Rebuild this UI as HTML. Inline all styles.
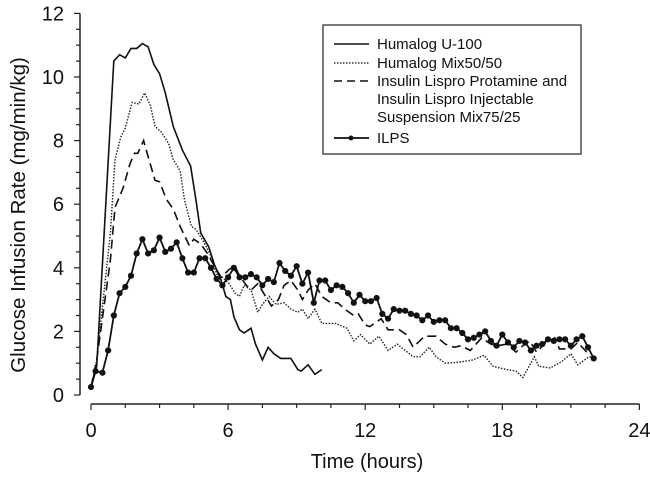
<!DOCTYPE html>
<html><head><meta charset="utf-8"><style>
body{margin:0;background:#fff}
svg{font-family:"Liberation Sans",Arial,sans-serif;display:block}
</style></head><body>
<svg id="chart" width="650" height="481" viewBox="0 0 650 481">
<g id="axes"></g><g id="series"></g>
<g>
<rect x="323" y="25" width="258" height="129" fill="#fff" stroke="#333" stroke-width="1.3"/>
<g font-size="15" fill="#111">
<line x1="334" y1="44" x2="369" y2="44" stroke="#111" stroke-width="1.5"/>
<text x="377" y="49">Humalog U-100</text>
<line x1="334" y1="63" x2="369" y2="63" stroke="#111" stroke-width="1.2" stroke-dasharray="1.5,1.5"/>
<text x="377" y="68">Humalog Mix50/50</text>
<line x1="334" y1="81" x2="369" y2="81" stroke="#111" stroke-width="1.5" stroke-dasharray="8,5"/>
<text x="377" y="86">Insulin Lispro Protamine and</text>
<text x="377" y="104">Insulin Lispro Injectable</text>
<text x="377" y="122">Suspension Mix75/25</text>
<line x1="334" y1="138" x2="369" y2="138" stroke="#111" stroke-width="1.8"/>
<circle cx="351" cy="138" r="2.5" fill="#111"/>
<text x="377" y="143">ILPS</text>
</g></g>
<text x="367" y="468" font-size="20" text-anchor="middle" fill="#111">Time (hours)</text>
<text transform="translate(25,215) rotate(-90)" font-size="20.5" text-anchor="middle" fill="#111">Glucose Infusion Rate (mg/min/kg)</text>
</svg>
<script>
const xTicks=[0,6,12,18,24];
const yTicks=[0,2,4,6,8,10,12];
const u100T=[0,0.25,1.0,1.25,1.5,1.75,2,2.25,2.5,2.75,3.0,3.25,3.6,4.0,4.36,4.6,4.8,5.15,5.4,5.7,5.9,6.1,6.26,6.5,6.7,7.0,7.2,7.5,7.75,8.0,8.3,8.75,9.05,9.2,9.5,9.8,10.1];
const u100V=[0.25,0.9,10.5,10.7,10.6,10.9,10.9,11.05,10.95,10.4,10.1,9.5,8.44,7.7,7.2,6.1,5.1,4.66,4.1,3.6,3.1,3.0,2.45,2.05,1.95,2.1,1.6,1.1,1.5,1.3,1.15,1.15,0.8,0.75,0.95,0.65,0.8];
const m50T=[0,0.25,0.85,1.05,1.3,1.5,1.8,2.1,2.35,2.6,2.8,3.1,3.4,3.6,3.9,4.1,4.4,4.6,4.9,5.2,5.5,5.75,6.05,6.3,6.5,6.7,7.0,7.3,7.5,7.8,8.1,8.45,8.75,9.05,9.25,9.5,9.8,10.1,10.7,11.2,11.5,11.8,12.2,12.6,13.0,13.4,14.1,14.4,14.8,15.1,15.5,16.1,16.7,17.2,17.6,18.2,18.6,18.9,19.4,19.6,20.1,20.6,21.0,21.3,21.8,22.0];
const m50V=[0.25,1.1,5.1,7.4,8.1,8.4,9.2,9.15,9.5,9.1,8.45,8.25,7.9,7.4,7.05,6.1,5.3,5.2,4.85,4.45,3.8,3.7,3.5,3.2,3.1,3.45,3.3,2.6,2.85,3.1,2.85,2.9,2.7,2.6,2.7,2.4,2.7,2.25,2.25,2.1,1.7,1.9,1.6,1.85,1.4,1.6,1.2,1.2,1.5,1.2,1.0,1.03,1.1,1.25,0.9,0.8,0.75,0.55,1.2,0.9,0.85,1.05,1.3,0.95,1.2,1.2];
const m75T=[0,0.25,0.85,1.05,1.4,1.7,1.9,2.05,2.3,2.5,2.8,3.0,3.3,3.6,3.9,4.3,4.5,4.8,5.1,5.4,5.7,6.05,6.3,6.5,6.8,7.0,7.3,7.9,8.2,8.45,8.75,9.05,9.25,9.5,9.8,10.1,10.5,10.8,11.1,11.5,11.7,12.0,12.2,12.7,13.0,13.5,13.8,14.1,14.6,15.1,15.5,15.9,16.2,16.6,17.1,17.5,17.8,18.2,18.6,18.9,19.2,19.5,19.9,20.3,20.5,21.0,21.3,21.7,21.8];
const m75V=[0.25,1.1,4.25,5.9,6.5,7.25,7.6,7.6,8.0,7.5,6.75,6.7,6.15,5.85,5.3,4.7,4.9,4.75,4.45,4.05,3.7,3.95,4.05,3.75,3.45,3.3,3.5,2.8,3.0,3.45,3.6,3.3,3.0,3.3,3.5,3.1,2.9,2.9,2.7,2.5,2.55,2.2,2.15,2.4,2.05,2.05,1.9,1.5,1.85,1.85,1.6,1.5,1.55,1.4,1.8,1.6,1.55,1.6,1.35,1.55,1.7,1.35,1.65,1.8,1.45,1.45,1.65,1.35,1.25];
const ilpsT=[0,0.2,0.5,0.75,1.0,1.25,1.5,1.75,2.0,2.25,2.5,2.75,3.0,3.25,3.5,3.75,4.0,4.25,4.5,4.75,5.0,5.25,5.5,5.75,6.0,6.25,6.5,6.75,7.0,7.25,7.5,7.75,8.0,8.25,8.5,8.75,9.0,9.25,9.5,9.75,10.0,10.25,10.5,10.75,11.0,11.25,11.5,11.75,12.0,12.25,12.5,12.75,13.0,13.25,13.5,13.75,14.0,14.25,14.5,14.75,15.0,15.25,15.5,15.75,16.0,16.25,16.5,16.75,17.0,17.25,17.5,17.75,18.0,18.25,18.5,18.75,19.0,19.25,19.5,19.75,20.0,20.25,20.5,20.75,21.0,21.25,21.5,21.75,22.0];
const ilpsV=[0.25,0.75,0.7,1.4,2.5,3.2,3.4,3.75,4.45,4.9,4.45,4.55,4.95,4.5,4.6,4.8,4.3,3.85,3.85,4.3,4.3,4.0,3.65,3.45,3.7,4.0,3.7,3.7,3.8,3.7,3.45,3.65,3.55,4.15,3.9,3.75,4.05,3.5,3.85,2.9,3.6,3.6,3.3,3.45,3.4,3.2,2.9,3.15,2.95,2.95,3.05,2.55,2.4,2.7,2.65,2.65,2.55,2.5,2.35,2.5,2.3,2.35,2.35,2.1,2.1,1.95,1.75,1.8,1.9,2.0,1.7,1.55,1.9,1.65,1.5,1.7,1.65,1.4,1.55,1.6,1.75,1.7,1.75,1.75,1.55,1.75,1.85,1.5,1.15];

const X0=91,XS=22.85,Y0=395,YS=31.8;
const sx=t=>X0+t*XS, sy=v=>Y0-v*YS;
const NS='http://www.w3.org/2000/svg';
function mk(tag,attrs,parent){const e=document.createElementNS(NS,tag);for(const k in attrs)e.setAttribute(k,attrs[k]);parent.appendChild(e);return e;}
const ax=document.getElementById('axes'), se=document.getElementById('series');
let el;
el=mk('line',{x1:80,y1:sy(12),x2:80,y2:sy(0),stroke:'#222','stroke-width':1.5},ax);


for(let v=0;v<=12.001;v+=0.5){
  el=mk('line',{x1:80,y1:sy(v),x2:v%2===0?74:76,y2:sy(v),stroke:'#222','stroke-width':1.2},ax);
  
  
}
yTicks.forEach(v=>{
  el=mk('text',{x:64,y:sy(v)+7,'font-size':20,'text-anchor':'end',fill:'#111'},ax);el.textContent=v;
  
  
});
el=mk('line',{x1:sx(0),y1:404,x2:sx(24),y2:404,stroke:'#222','stroke-width':1.5},ax);


for(let t=0;t<=24.001;t+=1.5){
  el=mk('line',{x1:sx(t),y1:404,x2:sx(t),y2:t%6===0?410:408,stroke:'#222','stroke-width':1.2},ax);
  
  
}
xTicks.forEach(t=>{
  el=mk('text',{x:sx(t),y:437,'font-size':20,'text-anchor':'middle',fill:'#111'},ax);el.textContent=t;
  
  
});
function pts(T,V){return T.map((t,i)=>sx(t).toFixed(1)+','+sy(V[i]).toFixed(1)).join(' ');}
el=mk('polyline',{points:pts(m50T,m50V),fill:'none',stroke:'#222','stroke-width':1.4,'stroke-dasharray':'1.5,1.5'},se);


el=mk('polyline',{points:pts(m75T,m75V),fill:'none',stroke:'#111','stroke-width':1.6,'stroke-dasharray':'9,5'},se);


el=mk('polyline',{points:pts(u100T,u100V),fill:'none',stroke:'#111','stroke-width':1.6},se);


el=mk('polyline',{points:pts(ilpsT,ilpsV),fill:'none',stroke:'#111','stroke-width':1.8},se);


ilpsT.forEach((t,i)=>{
  el=mk('circle',{cx:sx(t),cy:sy(ilpsV[i]),r:3.1,fill:'#111'},se);
  
  
});
</script>
</body></html>
